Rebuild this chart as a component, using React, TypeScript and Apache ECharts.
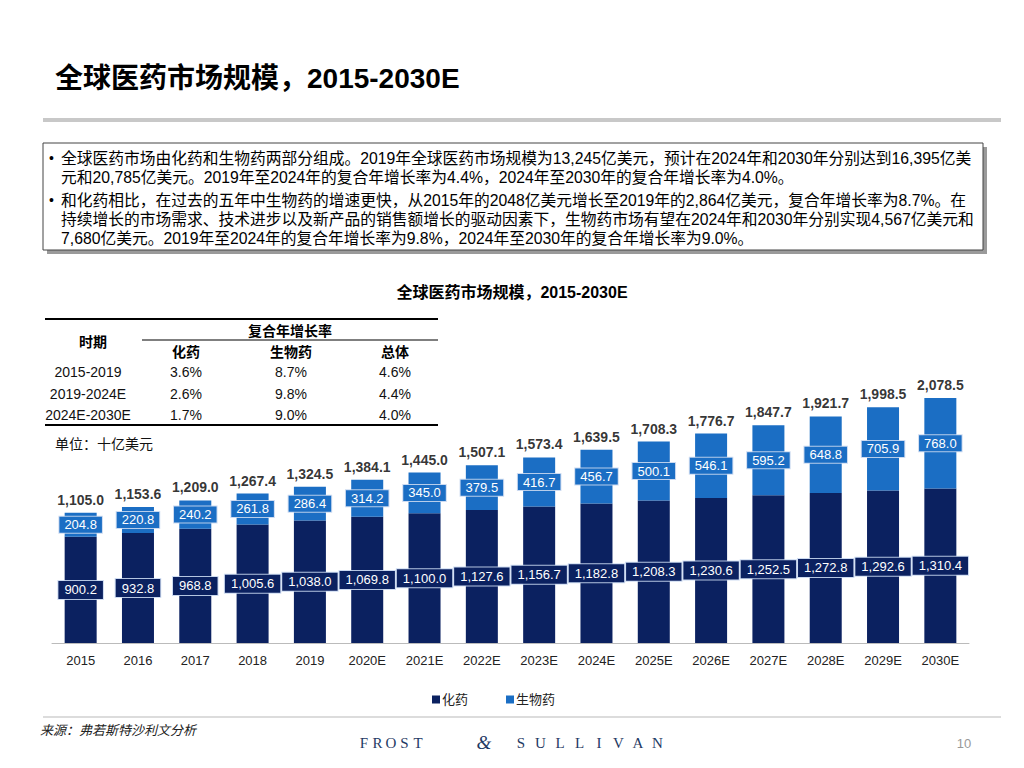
import React, { useEffect, useRef } from "react";
import * as echarts from "echarts";

const categories = ["2015", "2016", "2017", "2018", "2019", "2020E", "2021E", "2022E", "2023E", "2024E", "2025E", "2026E", "2027E", "2028E", "2029E", "2030E"];
const chemValues = [900.2, 932.8, 968.8, 1005.6, 1038.0, 1069.8, 1100.0, 1127.6, 1156.7, 1182.8, 1208.3, 1230.6, 1252.5, 1272.8, 1292.6, 1310.4];
const bioValues = [204.8, 220.8, 240.2, 261.8, 286.4, 314.2, 345.0, 379.5, 416.7, 456.7, 500.1, 546.1, 595.2, 648.8, 705.9, 768.0];
const totalValues = [1105.0, 1153.6, 1209.0, 1267.4, 1324.5, 1384.1, 1445.0, 1507.1, 1573.4, 1639.5, 1708.3, 1776.7, 1847.7, 1921.7, 1998.5, 2078.5];

const periods = ["2015-2019", "2019-2024E", "2024E-2030E"];
const cagrChem = ["3.6%", "2.6%", "1.7%"];
const cagrBio = ["8.7%", "9.8%", "9.0%"];
const cagrTotal = ["4.6%", "4.4%", "4.0%"];

const bulletLines = [
  "全球医药市场由化药和生物药两部分组成。2019年全球医药市场规模为13,245亿美元，预计在2024年和2030年分别达到16,395亿美",
  "元和20,785亿美元。2019年至2024年的复合年增长率为4.4%，2024年至2030年的复合年增长率为4.0%。",
  "和化药相比，在过去的五年中生物药的增速更快，从2015年的2048亿美元增长至2019年的2,864亿美元，复合年增长率为8.7%。在",
  "持续增长的市场需求、技术进步以及新产品的销售额增长的驱动因素下，生物药市场有望在2024年和2030年分别实现4,567亿美元和",
  "7,680亿美元。2019年至2024年的复合年增长率为9.8%，2024年至2030年的复合年增长率为9.0%。",
];

const PAGE_TITLE = "全球医药市场规模，2015-2030E";
const CHART_TITLE = "全球医药市场规模，2015-2030E";

const FF = '"Liberation Sans", Arial, "Noto Sans CJK SC", sans-serif';
const SERIF = '"Liberation Serif", "DejaVu Serif", serif';
const DARK = "#0b2160";
const LIGHT = "#1b6ec4";

const fmt = (v: number) =>
  v.toLocaleString("en-US", { minimumFractionDigits: 1, maximumFractionDigits: 1 });

function txt(text: string, x: number, y: number, opts: any = {}) {
  return {
    type: "text",
    silent: true,
    style: {
      text,
      x,
      y,
      fill: opts.fill || "#000",
      fontSize: opts.fontSize || 13,
      fontWeight: opts.fontWeight || "normal",
      fontStyle: opts.fontStyle || "normal",
      fontFamily: opts.fontFamily || FF,
      textAlign: opts.align || "left",
      textVerticalAlign: "middle",
    },
  };
}

function hline(x1: number, x2: number, y: number, w: number, color: string) {
  return {
    type: "line",
    silent: true,
    shape: { x1, y1: y, x2, y2: y },
    style: { stroke: color, lineWidth: w },
  };
}

export default function App() {
  const ref = useRef<HTMLDivElement>(null);

  useEffect(() => {
    if (!ref.current) return;
    const chart = echarts.init(ref.current, undefined, { renderer: "svg" });

    const graphics: any[] = [];
    // Page title and rule
    graphics.push(txt(PAGE_TITLE, 55, 78, { fontSize: 28, fontWeight: "bold" }));
    graphics.push(hline(43, 1001, 120, 4, "#c8c8c8"));

    // Text box with shadow
    graphics.push({ type: "rect", silent: true, shape: { x: 47, y: 147, width: 940, height: 107 }, style: { fill: "#9a9a9a" } });
    graphics.push({ type: "rect", silent: true, shape: { x: 43, y: 143, width: 940, height: 107 }, style: { fill: "#fff", stroke: "#444", lineWidth: 1 } });
    const lineYs = [158, 177, 200, 219, 238];
    bulletLines.forEach((l, i) => {
      if (i === 0 || i === 2) graphics.push(txt("•", 49, lineYs[i], { fontSize: 14 }));
      graphics.push(txt(l, 61, lineYs[i], { fontSize: 15.75 }));
    });

    // Chart title
    graphics.push(txt(CHART_TITLE, 512, 292, { fontSize: 16, fontWeight: "bold", align: "center" }));

    // CAGR table
    graphics.push(hline(45, 438, 319, 2, "#000"));
    graphics.push(hline(142, 438, 340, 1.2, "#000"));
    graphics.push(hline(45, 438, 425, 2, "#000"));
    graphics.push(txt("时期", 93, 342, { fontSize: 14, fontWeight: "bold", align: "center" }));
    graphics.push(txt("复合年增长率", 290, 331, { fontSize: 14, fontWeight: "bold", align: "center" }));
    const colX = [88, 186, 291, 395];
    graphics.push(txt("化药", colX[1], 352, { fontSize: 14, fontWeight: "bold", align: "center" }));
    graphics.push(txt("生物药", colX[2], 352, { fontSize: 14, fontWeight: "bold", align: "center" }));
    graphics.push(txt("总体", colX[3], 352, { fontSize: 14, fontWeight: "bold", align: "center" }));
    const rowY = [372, 394, 415];
    periods.forEach((p, i) => {
      graphics.push(txt(p, colX[0], rowY[i], { fontSize: 14, align: "center", fill: "#111" }));
      graphics.push(txt(cagrChem[i], colX[1], rowY[i], { fontSize: 14, align: "center", fill: "#111" }));
      graphics.push(txt(cagrBio[i], colX[2], rowY[i], { fontSize: 14, align: "center", fill: "#111" }));
      graphics.push(txt(cagrTotal[i], colX[3], rowY[i], { fontSize: 14, align: "center", fill: "#111" }));
    });
    graphics.push(txt("单位：十亿美元", 55, 444, { fontSize: 14, fill: "#111" }));

    // Footer
    graphics.push(hline(43, 1001, 717, 2, "#dcdcdc"));
    graphics.push(txt("来源：弗若斯特沙利文分析", 40, 730, { fontSize: 13, fontStyle: "italic", fill: "#222" }));
    const brand1 = ["F", "R", "O", "S", "T"];
    brand1.forEach((c, i) =>
      graphics.push(txt(c, 364 + i * 13.5, 743, { fontSize: 15, fontFamily: SERIF, fill: "#1f3a64", align: "center" }))
    );
    graphics.push(txt("&", 484, 742, { fontSize: 19, fontStyle: "italic", fontFamily: SERIF, fill: "#1f3a64", align: "center" }));
    const brand2 = ["S", "U", "L", "L", "I", "V", "A", "N"];
    brand2.forEach((c, i) =>
      graphics.push(txt(c, 521 + i * 19.5, 743, { fontSize: 15, fontFamily: SERIF, fill: "#1f3a64", align: "center" }))
    );
    graphics.push(txt("10", 964, 743, { fontSize: 13, fill: "#999", align: "center" }));

    const boxLabel = (bg: string, pad: number[]) => ({
      show: true,
      position: "inside",
      color: "#fff",
      fontSize: 13,
      fontFamily: FF,
      backgroundColor: bg,
      borderColor: "rgba(200,215,240,0.9)",
      borderWidth: 1,
      padding: pad,
      formatter: (p: any) => fmt(p.value),
    });

    chart.setOption({
      animation: false,
      textStyle: { fontFamily: FF },
      grid: { left: 52, right: 55, top: 360, bottom: 125, containLabel: false },
      legend: {
        data: ["化药", "生物药"],
        left: 427,
        top: 688,
        icon: "rect",
        itemWidth: 8,
        itemHeight: 8,
        itemGap: 38,
        textStyle: { fontSize: 13, color: "#222", fontFamily: FF, padding: [0, 0, 0, -3] },
      },
      xAxis: {
        type: "category",
        data: categories,
        axisLine: { lineStyle: { color: "#bbbbbb", width: 1 } },
        axisTick: { show: false },
        axisLabel: { fontSize: 13, color: "#222", margin: 11, fontFamily: FF },
      },
      yAxis: {
        type: "value",
        min: 0,
        max: 2400,
        show: false,
        splitLine: { show: false },
      },
      series: [
        {
          name: "化药",
          type: "bar",
          stack: "total",
          barWidth: 32,
          data: chemValues,
          itemStyle: { color: DARK },
          label: boxLabel(DARK, [3, 6, 2, 6]),
        },
        {
          name: "生物药",
          type: "bar",
          stack: "total",
          barWidth: 32,
          data: bioValues,
          itemStyle: { color: LIGHT },
          label: boxLabel(LIGHT, [2, 5, 1, 5]),
        },
        {
          name: "总计",
          type: "scatter",
          data: totalValues,
          symbolSize: 0,
          silent: true,
          label: {
            show: true,
            position: "top",
            distance: 6,
            color: "#000",
            fontSize: 14,
            fontWeight: "bold",
            fontFamily: FF,
            formatter: (p: any) => fmt(p.value),
          },
        },
      ],
      graphic: graphics,
    });

    return () => chart.dispose();
  }, []);

  return (
    <div
      ref={ref}
      style={{ position: "absolute", left: 0, top: 0, width: 1024, height: 768, background: "#fff" }}
    />
  );
}
